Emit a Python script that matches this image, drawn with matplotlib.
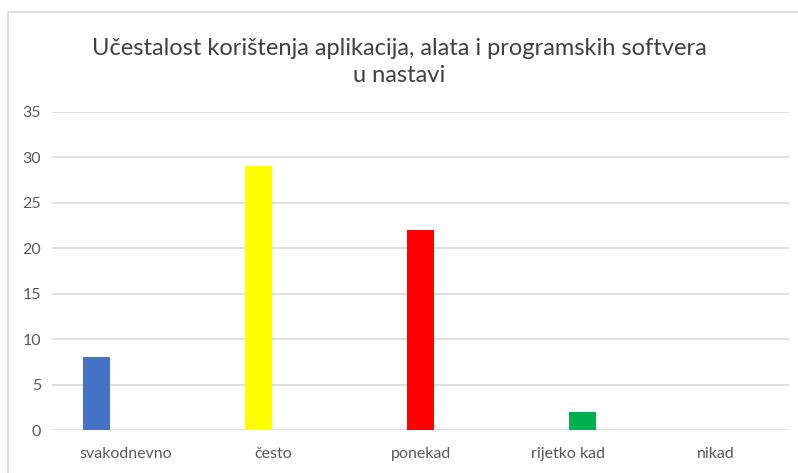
import matplotlib.pyplot as plt
from matplotlib.patches import Rectangle
import numpy as np

categories = ['svakodnevno', 'često', 'ponekad', 'rijetko kad', 'nikad']
values = [8, 29, 22, 2, 0]
colors = ['#4472C4', '#FFFF00', '#FF0000', '#00B050', '#ED7D31']
title = 'Učestalost korištenja aplikacija, alata i programskih softvera\nu nastavi'

plt.rcParams['font.family'] = ['Lato', 'DejaVu Sans']

W, H = 798, 473
fig = plt.figure(figsize=(W / 100, H / 100), dpi=100)
ax = fig.add_axes([52 / W, (H - 430) / H, (789 - 52) / W, (430 - 111.7) / H])

# chart area border (only top and left edges visible in the source)
fig.patches.append(Rectangle((8 / W, -0.1), 1.2, (H - 12) / H + 0.1,
                             transform=fig.transFigure, fill=False,
                             edgecolor='#D9D9D9', linewidth=1.2))

x = np.arange(len(categories))
step = 0.098
width = 0.185
for i, v in enumerate(values):
    # each answer is its own series, so bars sit at clustered offsets
    ax.bar(x[i] + (i - 2) * step, v, width=width, color=colors[i], zorder=3)

ax.set_xlim(-0.5, len(categories) - 0.5)
ax.set_ylim(0, 35)
ax.set_yticks(np.arange(0, 36, 5))
ax.set_xticks(x)
ax.set_xticklabels(categories)
ax.grid(axis='y', color='#D9D9D9', linewidth=1.2, zorder=0)
for s in ax.spines.values():
    s.set_visible(False)
ax.tick_params(length=0, labelsize=11.5, colors='#595959')
ax.tick_params(axis='x', pad=12)
ax.tick_params(axis='y', pad=8)

fig.text(0.5, (H - 62) / H, title, ha='center', va='center', fontsize=17,
         color='#404040', linespacing=1.35)

fig.savefig('out.png', dpi=100)
